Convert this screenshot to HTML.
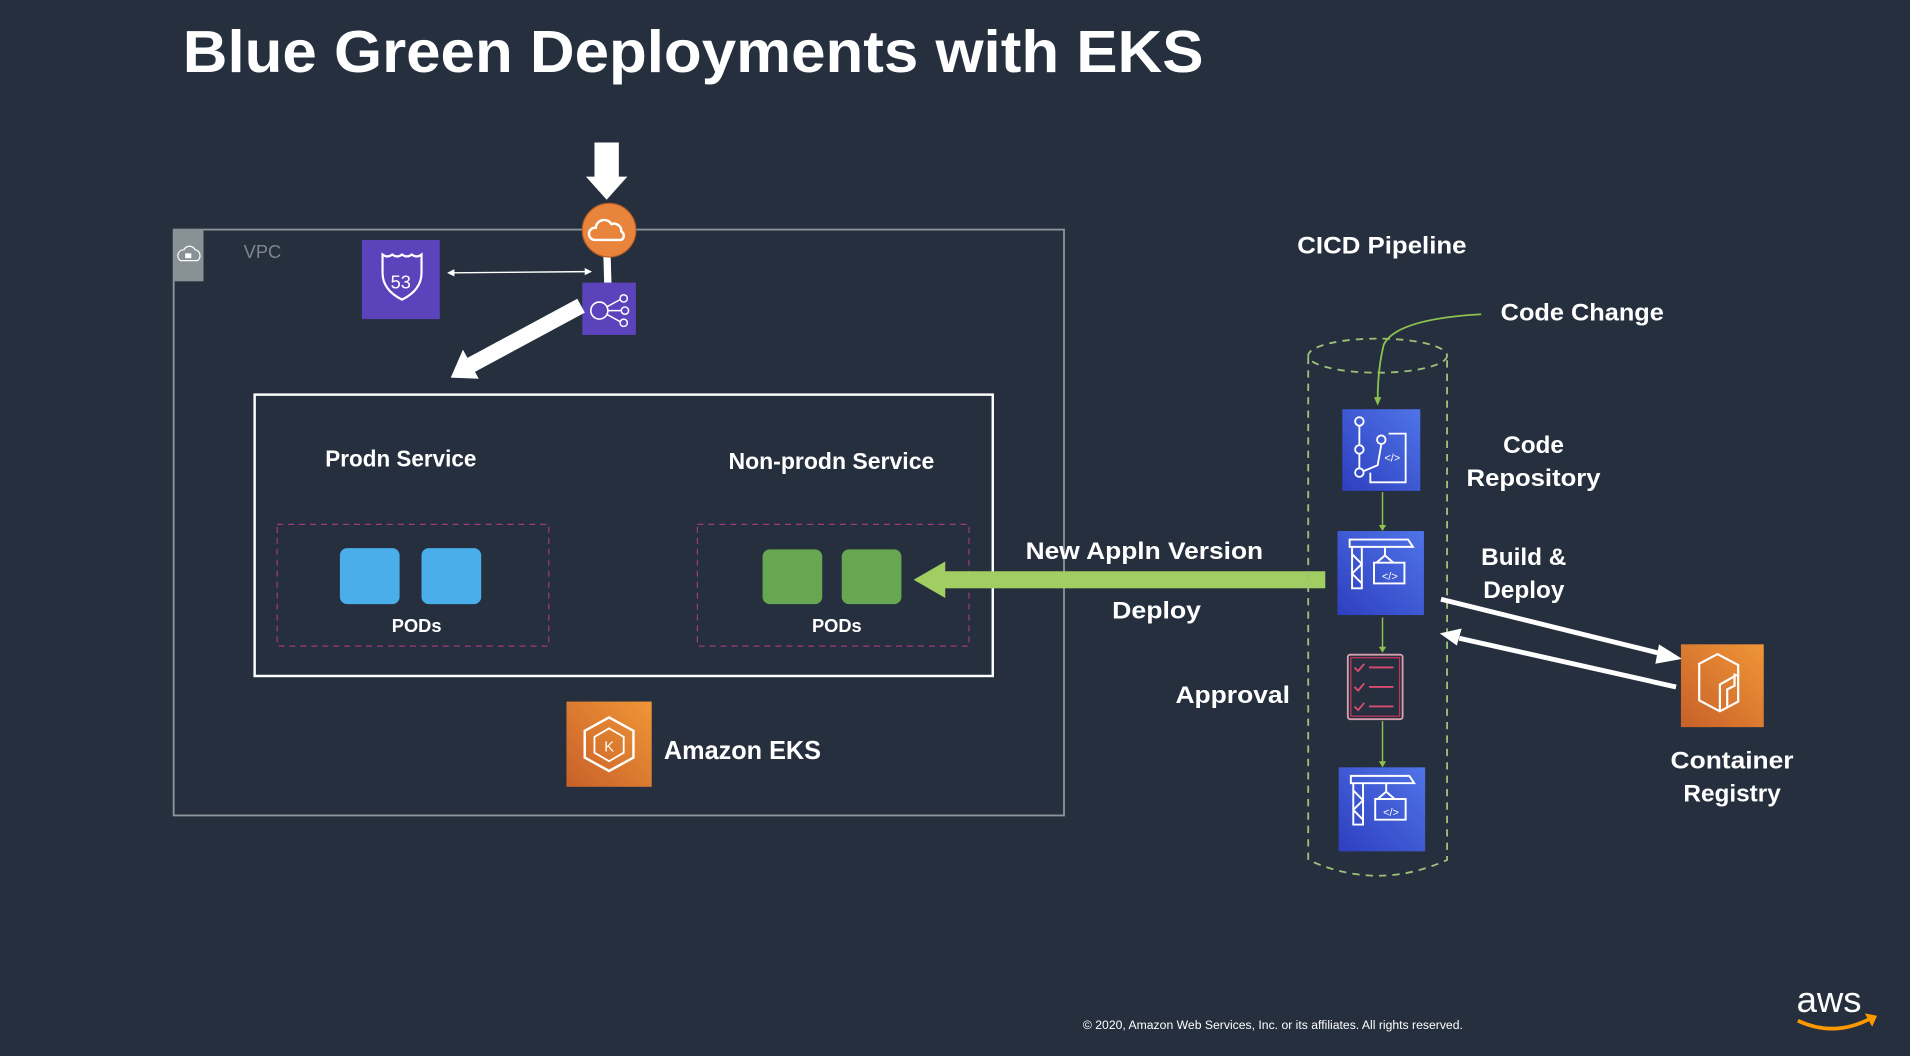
<!DOCTYPE html>
<html><head><meta charset="utf-8"><style>
html,body{margin:0;padding:0;background:#252f3e;}
svg{display:block}
text{font-family:"Liberation Sans","DejaVu Sans",sans-serif;font-weight:bold;fill:#fff}
</style></head><body>
<svg width="1910" height="1056" viewBox="0 0 1568 867" xmlns="http://www.w3.org/2000/svg">
<defs>
<linearGradient id="bl" x1="0" y1="1" x2="1" y2="0"><stop offset="0" stop-color="#2e3fbf"/><stop offset="1" stop-color="#4f74e8"/></linearGradient>
<linearGradient id="or" x1="0" y1="1" x2="1" y2="0"><stop offset="0" stop-color="#c8602a"/><stop offset="1" stop-color="#ef9636"/></linearGradient>
</defs>
<rect width="1568" height="867" fill="#252f3e"/>
<text x="150" y="59" font-size="49" textLength="838" lengthAdjust="spacingAndGlyphs">Blue Green Deployments with EKS</text>

<!-- VPC -->
<rect x="142.5" y="188.5" width="731" height="481" fill="none" stroke="#8d959b" stroke-width="1.5"/>
<rect x="142" y="188" width="25" height="43" fill="#879196"/>
<path d="M148 214 a5 5 0 0 1 3 -9 a5 5 0 0 1 9 0 a5 5 0 0 1 2 9 z" fill="none" stroke="#fff" stroke-width="1"/>
<rect x="152" y="208" width="5" height="4" fill="#fff"/>
<text x="200" y="212" font-size="15" style="font-weight:normal;fill:#7d868c">VPC</text>

<!-- top arrow -->
<rect x="488" y="117" width="20" height="29" fill="#fff"/>
<polygon points="481,145 515,145 498,164" fill="#fff"/>
<line x1="498" y1="200" x2="499" y2="234" stroke="#fff" stroke-width="6"/>
<circle cx="500" cy="189" r="22" fill="#e8843c" stroke="#b85e25" stroke-width="1"/>
<path d="M488 197 a5 5 0 0 1 1 -10 a7 7 0 0 1 13 -3 a6 6 0 0 1 8 6 a4 4 0 0 1 0 7 z" fill="none" stroke="#fff" stroke-width="2"/>

<!-- route53 -->
<rect x="297" y="197" width="64" height="65" fill="#5b44bb"/>
<path d="M314 209 q4 3 8 0 q4 3 8 0 q4 3 8 0 q4 3 8 0 l0 15 q0 14 -16 22 q-16 -8 -16 -22 z" fill="none" stroke="#fff" stroke-width="1.8"/>
<text x="329" y="237" font-size="15" text-anchor="middle" style="font-weight:normal">53</text>
<line x1="372" y1="224" x2="481" y2="223" stroke="#fff" stroke-width="1.2"/>
<polygon points="367,224 373,221 373,227" fill="#fff"/>
<polygon points="486,223 480,220 480,226" fill="#fff"/>

<!-- ELB -->
<rect x="478" y="232" width="44" height="43" fill="#5b44bb"/>
<circle cx="492" cy="255" r="7" fill="none" stroke="#fff" stroke-width="1.3"/>
<circle cx="512" cy="245" r="3" fill="none" stroke="#fff" stroke-width="1.2"/>
<circle cx="513" cy="255" r="3" fill="none" stroke="#fff" stroke-width="1.2"/>
<circle cx="512" cy="265" r="3" fill="none" stroke="#fff" stroke-width="1.2"/>
<path d="M499 255 h11 M498 252 l11 -6 M498 258 l11 6" stroke="#fff" stroke-width="1.2"/>

<!-- big diagonal arrow -->
<line x1="477" y1="251" x2="386" y2="300" stroke="#fff" stroke-width="13"/>
<polygon points="370,310 380,287 393,311" fill="#fff"/>

<!-- inner box -->
<rect x="209" y="324" width="606" height="231" fill="none" stroke="#fff" stroke-width="2"/>
<text x="267" y="383" font-size="19" textLength="124" lengthAdjust="spacingAndGlyphs">Prodn Service</text>
<text x="598" y="385" font-size="19" textLength="169" lengthAdjust="spacingAndGlyphs">Non-prodn Service</text>
<rect x="227.5" y="430.5" width="223" height="100" fill="none" stroke="#a0397d" stroke-dasharray="5,4"/>
<rect x="572.5" y="430.5" width="223" height="100" fill="none" stroke="#a0397d" stroke-dasharray="5,4"/>
<rect x="279" y="450" width="49" height="46" rx="6" fill="#4aaeea"/>
<rect x="346" y="450" width="49" height="46" rx="6" fill="#4aaeea"/>
<rect x="626" y="451" width="49" height="45" rx="6" fill="#67a751"/>
<rect x="691" y="451" width="49" height="45" rx="6" fill="#67a751"/>
<text x="342" y="519" font-size="15" text-anchor="middle">PODs</text>
<text x="687" y="519" font-size="15" text-anchor="middle">PODs</text>

<!-- EKS -->
<rect x="465" y="576" width="70" height="70" fill="url(#or)"/>
<polygon points="500,589 520,600 520,622 500,633 480,622 480,600" fill="none" stroke="#fff" stroke-width="2"/>
<polygon points="500,598 512,605 512,618 500,625 488,618 488,605" fill="none" stroke="#fff" stroke-width="1.5"/>
<text x="500" y="617" font-size="12" text-anchor="middle" style="font-weight:normal">K</text>
<text x="545" y="623" font-size="21" textLength="129" lengthAdjust="spacingAndGlyphs">Amazon EKS</text>

<!-- green arrow -->
<rect x="772" y="469" width="316" height="14" fill="#a1cd63"/>
<polygon points="750,476 776,461 776,491" fill="#a1cd63"/>
<text x="842" y="459" font-size="20" textLength="195" lengthAdjust="spacingAndGlyphs">New Appln Version</text>
<text x="913" y="508" font-size="20" textLength="73" lengthAdjust="spacingAndGlyphs">Deploy</text>
<text x="965" y="577" font-size="20" textLength="94" lengthAdjust="spacingAndGlyphs">Approval</text>

<!-- CICD -->
<text x="1065" y="208" font-size="20" textLength="139" lengthAdjust="spacingAndGlyphs">CICD Pipeline</text>
<text x="1232" y="263" font-size="20" textLength="134" lengthAdjust="spacingAndGlyphs">Code Change</text>
<g fill="none" stroke="#9cc27a" stroke-width="1.5" stroke-dasharray="6,5">
<ellipse cx="1131" cy="292" rx="57" ry="14"/>
<path d="M1074 293 V706 q57 26 114 0 V293"/>
</g>
<path d="M1216 258 q-70 4 -80 25 q-5 20 -5 46" fill="none" stroke="#8cc14f" stroke-width="1.5"/>
<polygon points="1128,326 1134,326 1131,333" fill="#8cc14f"/>

<!-- CodeCommit -->
<rect x="1102" y="336" width="64" height="67" fill="url(#bl)"/>
<g fill="none" stroke="#fff" stroke-width="1.5">
<circle cx="1116" cy="346" r="3.5"/><circle cx="1116" cy="369" r="3.5"/><circle cx="1116" cy="388" r="3.5"/><circle cx="1134" cy="361" r="3.5"/>
<path d="M1116 350 V365 M1116 373 V384 M1119 387 l12 -5 l3 -17"/>
<path d="M1140 356 h14 v40 h-29 v-8"/>
</g>
<text x="1143" y="379" font-size="9" text-anchor="middle" style="font-weight:normal">&lt;/&gt;</text>

<!-- CodeBuild 1 -->
<g id="cb">
<rect x="1098" y="436" width="71" height="69" fill="url(#bl)"/>
<g fill="none" stroke="#fff" stroke-width="1.6">
<path d="M1108 449 h52 l-4 -6 h-48 z M1110 449 v34 h8 v-34 M1110 455 l8 8 l-8 8 l8 8"/>
<path d="M1137 449 v7 M1130 462 l7 -6 l7 6 M1128 462 h25 v17 h-25 z"/>
</g>
<text x="1141" y="476" font-size="9" text-anchor="middle" style="font-weight:normal">&lt;/&gt;</text>
</g>
<use href="#cb" transform="translate(1,194)"/>

<!-- checklist -->
<rect x="1106.5" y="537.5" width="45" height="53" rx="2" fill="#252f3e" stroke="#d8a0b0" stroke-width="1.5"/>
<rect x="1109" y="540" width="40" height="48" fill="none" stroke="#c7355e" stroke-width="1"/>
<g stroke="#d94b71" stroke-width="1.5" fill="none">
<path d="M1112 548 l3 3 l5 -6 M1112 564 l3 3 l5 -6 M1112 580 l3 3 l5 -6"/>
<path d="M1124 548 h20 M1124 564 h20 M1124 580 h20"/>
</g>

<!-- green connectors -->
<g stroke="#8cc14f" stroke-width="1.2">
<line x1="1135" y1="404" x2="1135" y2="434"/><line x1="1135" y1="507" x2="1135" y2="534"/><line x1="1135" y1="592" x2="1135" y2="628"/>
</g>
<g fill="#8cc14f">
<polygon points="1132,431 1138,431 1135,436"/><polygon points="1132,531 1138,531 1135,536"/><polygon points="1132,625 1138,625 1135,630"/>
</g>

<text x="1259" y="372" font-size="20" text-anchor="middle">Code</text>
<text x="1259" y="399" font-size="20" text-anchor="middle" textLength="110" lengthAdjust="spacingAndGlyphs">Repository</text>
<text x="1251" y="464" font-size="20" text-anchor="middle">Build &amp;</text>
<text x="1251" y="491" font-size="20" text-anchor="middle">Deploy</text>

<!-- white arrows -->
<line x1="1183" y1="492" x2="1365" y2="537" stroke="#fff" stroke-width="4"/>
<polygon points="1381,541 1362,529 1359,545" fill="#fff"/>
<line x1="1376" y1="564" x2="1198" y2="524" stroke="#fff" stroke-width="4"/>
<polygon points="1182,520 1200,516 1196,530" fill="#fff"/>

<!-- ECR -->
<rect x="1380" y="529" width="68" height="68" fill="url(#or)"/>
<g fill="none" stroke="#fff" stroke-width="1.8">
<polygon points="1395,545 1410,537 1427,546 1427,576 1412,584 1395,575"/>
<path d="M1412 584 v-22 l14 -8 M1418 580 v-14 l6 -3 v-10"/>
</g>
<text x="1422" y="631" font-size="20" text-anchor="middle" textLength="101" lengthAdjust="spacingAndGlyphs">Container</text>
<text x="1422" y="658" font-size="20" text-anchor="middle">Registry</text>

<!-- footer -->
<text x="889" y="845" font-size="9.5" style="font-weight:normal" textLength="312" lengthAdjust="spacingAndGlyphs">© 2020, Amazon Web Services, Inc. or its affiliates. All rights reserved.</text>
<text x="1475" y="831" font-size="30" style="font-weight:normal">aws</text>
<path d="M1476 838 q30 14 60 -2" fill="none" stroke="#ff9900" stroke-width="3"/>
<polygon points="1531,832 1541,834 1537,843" fill="#ff9900"/>
</svg>
</body></html>
